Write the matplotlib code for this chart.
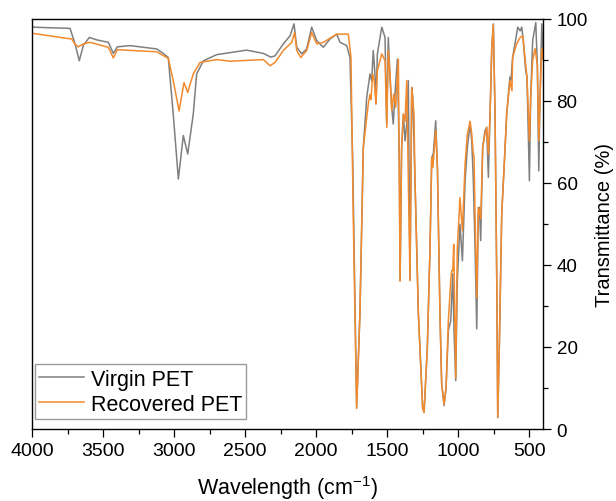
import matplotlib
matplotlib.use('Agg')
import matplotlib.pyplot as plt
from matplotlib.ticker import MultipleLocator

plt.rcParams['font.family'] = ['Liberation Sans', 'DejaVu Sans']
plt.rcParams['mathtext.default'] = 'regular'

# FTIR spectra (wavenumber cm-1, transmittance %)
virgin_wn = [4000, 3734, 3700, 3669, 3640, 3598, 3546, 3464, 3429, 3401, 3312, 3124, 3077,
             3042, 3007, 2971, 2936, 2905, 2866, 2842, 2795, 2701, 2490, 2372, 2320, 2290,
             2232, 2184, 2156, 2137, 2102, 2067, 2032, 1996, 1950, 1903, 1855, 1832, 1785,
             1762, 1743, 1715, 1692, 1668, 1644, 1621, 1609, 1598, 1586, 1579, 1569, 1538,
             1515, 1503, 1492, 1480, 1468, 1457, 1445, 1428, 1414, 1409, 1398, 1386, 1374,
             1362, 1351, 1339, 1327, 1320, 1304, 1280, 1250, 1240, 1217, 1198, 1186, 1175,
             1158, 1146, 1128, 1116, 1099, 1085, 1069, 1052, 1038, 1029, 1017, 1006, 987,
             970, 951, 935, 916, 904, 893, 881, 869, 858, 850, 841, 827, 811, 799, 787, 775,
             763, 752, 740, 728, 721, 710, 693, 675, 658, 642, 635, 628, 616, 592, 580, 563,
             552, 541, 524, 515, 498, 489, 475, 453, 442, 432, 423, 411, 400]
virgin_t = [97.9, 97.6, 94.0, 89.7, 93.5, 95.4, 94.8, 94.2, 91.5, 93.1, 93.4, 92.6, 91.5,
            90.5, 76.7, 60.9, 71.5, 67.0, 76.7, 86.5, 89.7, 91.2, 92.3, 91.5, 90.6, 90.9,
            93.8, 95.8, 98.7, 93.0, 91.4, 92.6, 97.9, 94.6, 93.0, 95.0, 96.2, 94.2, 93.4,
            90.5, 66.0, 5.3, 28.0, 68.6, 80.8, 86.5, 84.8, 92.2, 86.5, 79.2, 91.4, 97.9,
            95.4, 74.3, 95.4, 85.7, 78.4, 74.3, 81.6, 90.1, 64.6, 36.1, 68.6, 76.7, 70.2,
            74.3, 84.9, 36.5, 83.2, 81.0, 60.5, 28.0, 5.3, 4.1, 19.9, 44.3, 66.2, 67.0,
            75.1, 63.7, 28.0, 11.0, 5.7, 10.1, 24.0, 26.4, 37.8, 24.0, 11.8, 36.0, 49.9,
            41.0, 60.5, 68.6, 74.3, 70.2, 60.5, 44.3, 24.4, 52.4, 54.0, 45.9, 68.6, 72.7,
            73.5, 61.3, 76.7, 93.0, 98.7, 76.7, 36.1, 2.8, 19.9, 52.4, 64.6, 76.7, 83.2,
            85.7, 84.9, 90.5, 95.4, 97.9, 97.0, 97.9, 94.6, 87.3, 85.7, 60.5, 80.8, 94.6,
            99.0, 88.6, 62.9, 80.8, 98.7, 90.0]

recovered_wn = [4000, 3722, 3700, 3676, 3640, 3594, 3464, 3429, 3401, 3124, 3042, 3007,
                2966, 2931, 2905, 2866, 2818, 2701, 2607, 2372, 2325, 2290, 2232, 2172,
                2152, 2137, 2109, 2067, 2032, 1996, 1950, 1855, 1785, 1774, 1755, 1739,
                1715, 1692, 1668, 1633, 1621, 1614, 1602, 1591, 1579, 1569, 1538, 1515,
                1503, 1492, 1480, 1468, 1454, 1440, 1421, 1409, 1398, 1386, 1374, 1362,
                1351, 1339, 1327, 1311, 1304, 1280, 1250, 1240, 1217, 1198, 1186, 1178,
                1158, 1146, 1128, 1116, 1099, 1085, 1069, 1052, 1045, 1038, 1031, 1024,
                1017, 1006, 987, 970, 951, 935, 916, 904, 893, 888, 881, 869, 858, 850,
                841, 827, 811, 799, 787, 775, 763, 752, 740, 728, 721, 710, 693, 675, 658,
                642, 635, 621, 616, 588, 563, 545, 529, 515, 498, 489, 475, 458, 442, 432,
                423, 411, 400]
recovered_t = [96.4, 95.0, 93.8, 93.1, 93.8, 94.2, 93.0, 90.4, 92.4, 91.9, 90.3, 84.9,
               77.5, 84.4, 82.0, 86.5, 89.3, 90.0, 89.6, 90.0, 88.5, 89.3, 92.2, 94.2,
               96.6, 92.2, 90.5, 92.2, 96.6, 93.8, 94.2, 96.2, 96.2, 96.2, 90.5, 52.0,
               5.0, 28.0, 68.6, 79.2, 81.5, 80.3, 86.5, 84.8, 79.2, 87.3, 91.4, 89.7,
               73.5, 92.2, 86.5, 77.6, 81.6, 78.4, 90.1, 36.1, 68.6, 76.7, 75.0, 84.9,
               60.5, 36.1, 83.2, 76.7, 60.5, 28.0, 5.0, 4.0, 19.9, 44.3, 66.2, 63.7,
               72.7, 63.7, 28.0, 11.0, 6.0, 10.1, 26.4, 36.1, 38.6, 38.6, 45.0, 28.0,
               12.5, 44.0, 56.4, 48.3, 64.6, 71.8, 75.0, 71.8, 66.9, 66.5, 52.4, 32.0,
               54.0, 53.0, 51.2, 68.6, 71.8, 73.5, 66.9, 76.7, 93.0, 98.5, 76.7, 36.1,
               2.8, 19.9, 52.4, 64.6, 76.7, 82.4, 84.9, 82.4, 90.5, 93.8, 95.4, 95.8,
               90.5, 85.7, 70.2, 80.8, 89.7, 92.7, 88.6, 70.2, 80.8, 92.7, 90.0]

fig = plt.figure(figsize=(6.16, 5.02), dpi=100)
ax = fig.add_axes([0.0524, 0.1434, 0.8296, 0.8177])

ax.plot(virgin_wn, virgin_t, color='#7f7f7f', lw=1.1, label='Virgin PET')
ax.plot(recovered_wn, recovered_t, color='#f28a2e', lw=1.1, label='Recovered PET')

ax.set_xlim(4000, 400)
ax.set_ylim(0, 100)
ax.xaxis.set_major_locator(MultipleLocator(500))
ax.xaxis.set_minor_locator(MultipleLocator(250))
ax.yaxis.set_major_locator(MultipleLocator(20))
ax.yaxis.set_minor_locator(MultipleLocator(10))
ax.yaxis.tick_right()
ax.yaxis.set_label_position('right')
ax.tick_params(which='major', direction='out', length=6, width=0.9, labelsize=13.5)
ax.tick_params(axis='x', which='major', labelsize=14)
ax.tick_params(which='minor', direction='out', length=3.5, width=0.9)
ax.tick_params(axis='y', which='both', left=False, right=True)
for s in ax.spines.values():
    s.set_linewidth(1.0)

ax.set_xlabel('Wavelength (cm$^{-1}$)', fontsize=15.5, labelpad=10)
ax.set_ylabel('Transmittance (%)', fontsize=14.5, labelpad=5)

leg = ax.legend(loc='lower left', bbox_to_anchor=(0.005, 0.024), borderaxespad=0,
                fontsize=15.5, fancybox=False, edgecolor='#999999', framealpha=1,
                handlelength=2.1, handletextpad=0.3, borderpad=0.2, labelspacing=0.2)
leg.get_frame().set_linewidth(1.0)

plt.savefig('out.png', dpi=100)
